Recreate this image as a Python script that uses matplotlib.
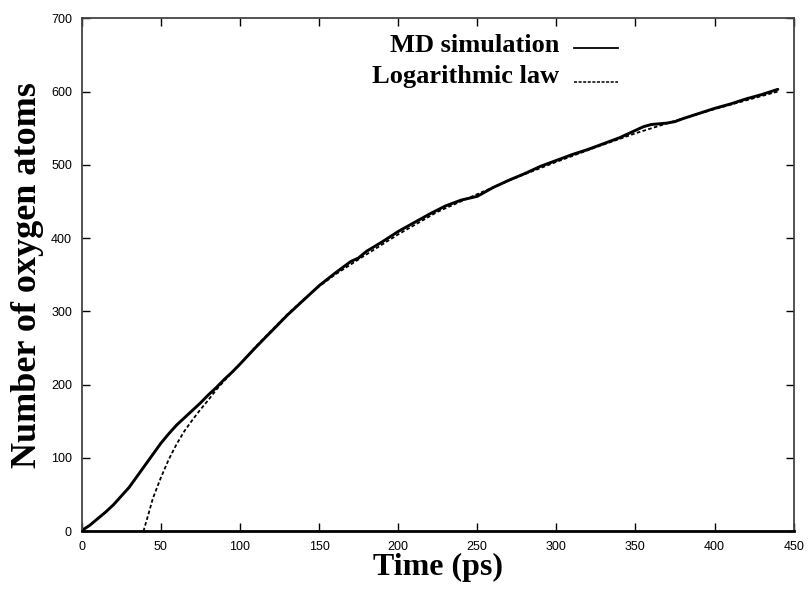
import matplotlib
matplotlib.use("Agg")
import matplotlib.pyplot as plt
from matplotlib.lines import Line2D

# MD simulation curve
md_time = [0, 5, 10, 15, 20, 25, 30, 35, 40, 45, 50, 55, 60, 65, 70, 75, 80, 85, 90, 95,
           100, 110, 120, 130, 140, 150, 160, 170, 175, 180, 190, 200, 210, 220, 230, 240,
           250, 260, 270, 280, 290, 300, 310, 320, 330, 340, 350, 355, 360, 365, 370, 375,
           380, 390, 400, 410, 420, 430, 440]
md_atoms = [1, 8, 17, 26, 36, 48, 60, 75, 90, 105, 120, 133, 145, 155, 165, 175, 186, 196, 207, 217,
            228, 251, 273, 295, 315, 335, 352, 368, 373, 382, 395, 409, 421, 433, 444, 452,
            457, 469, 479, 488, 498, 506, 514, 521, 529, 537, 547, 552, 555, 556, 557, 559,
            563, 570, 577, 583, 590, 596, 603]

# logarithmic law fit
log_time = [39, 42, 45, 50, 55, 60, 65, 70, 75, 80, 85, 90, 100, 110, 120, 130, 140, 150, 160,
            175, 200, 225, 250, 275, 300, 325, 350, 375, 400, 420, 440]
log_atoms = [0, 22, 45, 73, 98, 119, 137, 152, 166, 179, 193, 205, 228, 252, 274, 296, 316, 334, 350,
             371, 405, 436, 460, 483, 504, 524, 543, 560, 576, 588, 600]

xticks = [0, 50, 100, 150, 200, 250, 300, 350, 400, 450]
yticks = [0, 100, 200, 300, 400, 500, 600, 700]

serif = "Liberation Serif"
sans = "Liberation Sans"

fig = plt.figure(figsize=(8.09, 5.89), dpi=100)
ax = fig.add_axes([0.101, 0.098, 0.880, 0.871])

ax.plot(md_time, md_atoms, color="black", lw=2.1, solid_capstyle="round")
ax.plot(log_time, log_atoms, color="black", lw=1.3, linestyle=(0, (2.0, 1.3)))

ax.set_xlim(0, 450)
ax.set_ylim(0, 700)
ax.set_xticks(xticks)
ax.set_yticks(yticks)
ax.tick_params(direction="in", length=6, width=1, top=True, right=True,
               labelsize=9, pad=7, colors="black")
ax.tick_params(axis="x", pad=7)
for lab in ax.get_xticklabels() + ax.get_yticklabels():
    lab.set_fontfamily(sans)

for side in ["left", "top", "right"]:
    ax.spines[side].set_color("#444444")
    ax.spines[side].set_linewidth(1.3)
ax.spines["bottom"].set_color("black")
ax.spines["bottom"].set_linewidth(2.0)

ax.set_xlabel("Time (ps)", fontfamily=serif, fontweight="bold", fontsize=23, labelpad=0)
ax.set_ylabel("Number of oxygen atoms", fontfamily=serif, fontweight="bold", fontsize=26, labelpad=5)

# gnuplot style key: text right aligned, sample to the right
key_font = dict(fontfamily=serif, fontweight="bold", fontsize=19, ha="right", va="baseline",
                transform=ax.transAxes)
ax.text(0.671, 0.934, "MD simulation", **key_font)
ax.text(0.671, 0.873, "Logarithmic law", **key_font)
ax.add_line(Line2D([0.692, 0.753], [0.943, 0.943], transform=ax.transAxes, color="black", lw=1.3))
ax.add_line(Line2D([0.692, 0.753], [0.876, 0.876], transform=ax.transAxes, color="black", lw=1.1,
                   linestyle=(0, (2.0, 1.0))))

fig.savefig("out.png", dpi=100)
